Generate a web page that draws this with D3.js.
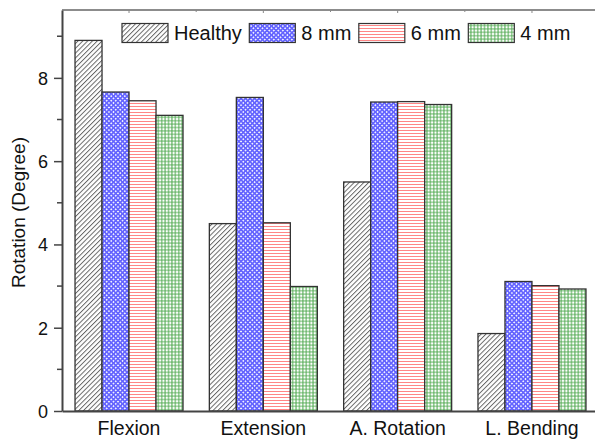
<!DOCTYPE html>
<html>
<head>
<meta charset="utf-8">
<script src="https://cdn.jsdelivr.net/npm/d3@7/dist/d3.min.js"></script>
<style>
  body { margin: 0; background: #fff; }
  svg { display: block; font-family: "Liberation Sans", Arial, sans-serif; }
</style>
</head>
<body>
<div id="chart"></div>
<script>
var categories = ['Flexion', 'Extension', 'A. Rotation', 'L. Bending'];
var seriesNames = ['Healthy', '8 mm', '6 mm', '4 mm'];
var healthy = [8.9, 4.5, 5.5, 1.86];
var mm8 = [7.66, 7.53, 7.42, 3.11];
var mm6 = [7.45, 4.52, 7.43, 3.01];
var mm4 = [7.1, 2.99, 7.36, 2.93];
var yTicks = [0, 2, 4, 6, 8];
var yMinorTicks = [1, 3, 5, 7, 9];

var width = 595, height = 441;
var margin = { left: 62, top: 10, right: 599, bottom: 411 };

var svg = d3.select('#chart')
  .append('svg')
  .attr('width', width)
  .attr('height', height)
;

var defs = svg.append('defs');

// fill patterns, one per series
var pHealthy = defs.append('pattern')
  .attr('id', 'p-healthy')
  .attr('patternUnits', 'userSpaceOnUse')
  .attr('width', 3.4).attr('height', 3.4)
  .attr('patternTransform', 'rotate(45)');
pHealthy.append('rect').attr('width', 3.4).attr('height', 3.4).attr('fill', '#fff');
pHealthy.append('line')
  .attr('x1', 0.5).attr('y1', 0).attr('x2', 0.5).attr('y2', 3.4)
  .attr('stroke', '#5a5a5a').attr('stroke-width', 0.9);

var p8 = defs.append('pattern')
  .attr('id', 'p-8')
  .attr('patternUnits', 'userSpaceOnUse')
  .attr('width', 3.2).attr('height', 3.2)
  .attr('patternTransform', 'rotate(45)');
p8.append('rect').attr('width', 3.2).attr('height', 3.2).attr('fill', '#6464ff');
p8.append('rect').attr('width', 1.6).attr('height', 1.6).attr('fill', '#eeeeff');

var p6 = defs.append('pattern')
  .attr('id', 'p-6')
  .attr('patternUnits', 'userSpaceOnUse')
  .attr('width', 6).attr('height', 3);
p6.append('rect').attr('width', 6).attr('height', 3).attr('fill', '#fff');
p6.append('line')
  .attr('x1', 0).attr('y1', 1.5).attr('x2', 6).attr('y2', 1.5)
  .attr('stroke', '#ff8686').attr('stroke-width', 1);

var p4 = defs.append('pattern')
  .attr('id', 'p-4')
  .attr('patternUnits', 'userSpaceOnUse')
  .attr('width', 3.4).attr('height', 3.4);
p4.append('rect').attr('width', 3.4).attr('height', 3.4).attr('fill', '#fff');
p4.append('path')
  .attr('d', 'M0,1.7H3.4M1.7,0V3.4')
  .attr('stroke', '#4ea84e').attr('stroke-width', 1);

var fills = ['url(#p-healthy)', 'url(#p-8)', 'url(#p-6)', 'url(#p-4)'];

var data = categories.map(function(c, i) {
  return {
    category: c,
    values: [healthy[i], mm8[i], mm6[i], mm4[i]]
  };
});

var x = d3.scaleBand()
  .domain(categories)
  .range([margin.left, margin.right])
  .paddingInner(0.196)
  .paddingOuter(0.097);

var xs = d3.scaleBand()
  .domain(seriesNames)
  .range([0, x.bandwidth()]);

var y = d3.scaleLinear()
  .domain([0, 9.63])
  .range([margin.bottom, margin.top]);

// bars
var groups = svg.append('g')
  .selectAll('g')
  .data(data)
  .enter()
  .append('g')
  .attr('transform', function(d) { return 'translate(' + x(d.category) + ',0)'; });

groups.selectAll('rect')
  .data(function(d) {
    return d.values.map(function(v, j) { return { name: seriesNames[j], value: v, idx: j }; });
  })
  .enter()
  .append('rect')
  .attr('x', function(d) { return xs(d.name); })
  .attr('y', function(d) { return y(d.value); })
  .attr('width', xs.bandwidth())
  .attr('height', function(d) { return y(0) - y(d.value); })
  .attr('fill', function(d) { return fills[d.idx]; })
  .attr('stroke', '#333')
  .attr('stroke-width', 1.3);

// left axis
var yAxis = svg.append('g')
  .attr('transform', 'translate(' + margin.left + ',0)')
  .call(d3.axisLeft(y).tickValues(yTicks).tickSize(8).tickSizeOuter(0).tickFormat(d3.format('d')));
yAxis.select('.domain').attr('stroke', '#444').attr('stroke-width', 2);
yAxis.selectAll('.tick line').attr('stroke', '#444').attr('stroke-width', 1.5);
yAxis.selectAll('.tick text')
  .attr('font-size', 18)
  .attr('fill', '#111')
  .attr('x', -14)
  .attr('dy', '0.36em');

svg.append('g')
  .attr('transform', 'translate(' + margin.left + ',0)')
  .selectAll('line')
  .data(yMinorTicks)
  .enter()
  .append('line')
  .attr('x1', -5).attr('x2', 0)
  .attr('y1', function(d) { return y(d); })
  .attr('y2', function(d) { return y(d); })
  .attr('stroke', '#444')
  .attr('stroke-width', 1.5);

// bottom axis
var xAxis = svg.append('g')
  .attr('transform', 'translate(0,' + margin.bottom + ')')
  .call(d3.axisBottom(x).tickSize(0).tickSizeOuter(0));
xAxis.select('.domain').attr('stroke', '#444').attr('stroke-width', 2);
xAxis.selectAll('.tick text')
  .attr('font-size', 19.5)
  .attr('fill', '#111')
  .attr('y', 0)
  .attr('dy', 24);

// top frame line with inward ticks
svg.append('line')
  .attr('x1', margin.left).attr('x2', margin.right)
  .attr('y1', margin.top).attr('y2', margin.top)
  .attr('stroke', '#666').attr('stroke-width', 1.6);

var topTicks = [];
categories.forEach(function(c, i) {
  topTicks.push({ pos: x(c) + x.bandwidth() / 2, major: true });
  if (i < categories.length - 1) {
    topTicks.push({ pos: x(c) + x.bandwidth() / 2 + x.step() / 2, major: false });
  }
});
svg.append('g')
  .selectAll('line')
  .data(topTicks)
  .enter()
  .append('line')
  .attr('x1', function(d) { return d.pos; })
  .attr('x2', function(d) { return d.pos; })
  .attr('y1', margin.top)
  .attr('y2', function(d) { return margin.top + (d.major ? 3 : 2); })
  .attr('stroke', '#888')
  .attr('stroke-width', 1);

// y title
svg.append('text')
  .attr('transform', 'translate(25,' + ((margin.top + margin.bottom) / 2 + 2) + ') rotate(-90)')
  .attr('text-anchor', 'middle')
  .attr('font-size', 19)
  .attr('fill', '#111')
  .text('Rotation (Degree)');

// legend
var legend = svg.append('g').attr('class', 'legend');
var lx = 122;
seriesNames.forEach(function(name, i) {
  legend.append('rect')
    .attr('x', lx).attr('y', 23.5)
    .attr('width', 46).attr('height', 19)
    .attr('fill', fills[i])
    .attr('stroke', '#333')
    .attr('stroke-width', 1.2);
  var t = legend.append('text')
    .attr('x', lx + 52)
    .attr('y', 39.5)
    .attr('font-size', 20)
    .attr('fill', '#111')
    .text(name);
  lx = lx + 52 + t.node().getComputedTextLength() + 7.5;
});
</script>
</body>
</html>
